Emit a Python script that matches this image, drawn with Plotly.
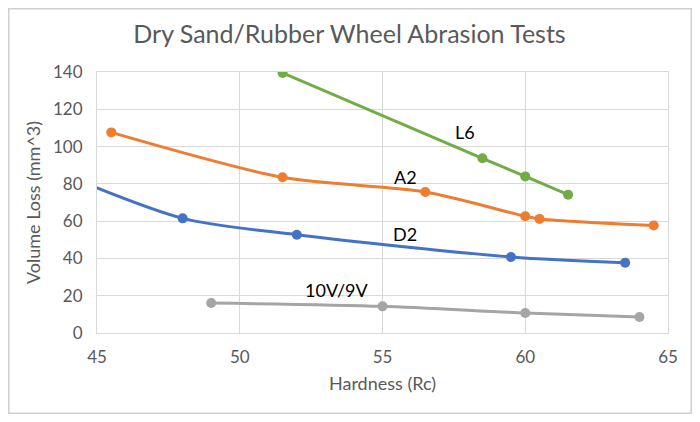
import plotly.graph_objects as go

# Data
d2_x = [44, 48, 52, 59.5, 63.5]
d2_y = [84, 61.5, 52.7, 40.8, 37.7]
a2_x = [45.5, 51.5, 56.5, 60, 60.5, 64.5]
a2_y = [107.6, 83.5, 75.6, 62.6, 61.2, 57.7]
l6_x = [51.5, 58.5, 60, 61.5]
l6_y = [139.5, 93.7, 84, 74.2]
v_x = [49, 55, 60, 64]
v_y = [16.1, 14.3, 10.7, 8.6]

labels = ["L6", "A2", "D2", "10V/9V"]
label_x = [57.9, 55.8, 55.8, 53.4]
label_y = [107.6, 83.7, 53.3, 23.2]

x_ticks = [45, 50, 55, 60, 65]
y_ticks = [0, 20, 40, 60, 80, 100, 120, 140]

FONT = "Lato"
GRAY_TXT = "#595959"

series = [
    ("D2", d2_x, d2_y, "#4472C4"),
    ("A2", a2_x, a2_y, "#ED7D31"),
    ("L6", l6_x, l6_y, "#70AD47"),
    ("10V/9V", v_x, v_y, "#A5A5A5"),
]

fig = go.Figure()
for name, xs, ys, col in series:
    fig.add_trace(go.Scatter(
        x=xs, y=ys, mode="lines+markers", name=name,
        line=dict(color=col, width=3, shape="spline", smoothing=0.8),
        marker=dict(color=col, size=10),
        cliponaxis=True,
    ))

for t, lx, ly in zip(labels, label_x, label_y):
    fig.add_annotation(x=lx, y=ly, text=t, showarrow=False,
                       font=dict(family=FONT, size=18, color="#000000"))

# page body has an 8px margin, so figure is sized to fit the 700x422 window
W, H = 684, 406
L, R, T, B = 89, 24, 64, 81
pw, ph = W - L - R, H - T - B

# light frame around the chart area
fig.add_shape(type="rect", xref="paper", yref="paper",
              x0=(0.75 - L) / pw, x1=(W - 0.75 - L) / pw,
              y0=-(B - 0.75) / ph, y1=1 + (T - 0.75) / ph,
              line=dict(color="#d0d0d0", width=1.5), fillcolor="rgba(0,0,0,0)", layer="below")

fig.update_layout(
    width=W, height=H,
    margin=dict(l=L, r=R, t=T, b=B),
    paper_bgcolor="white", plot_bgcolor="white",
    showlegend=False,
    title=dict(text="Dry Sand/Rubber Wheel Abrasion Tests", x=(349.5 - 8) / W, xanchor="center",
               y=1 - 26 / H, yanchor="middle",
               font=dict(family=FONT, size=25, color=GRAY_TXT)),
    font=dict(family=FONT, color=GRAY_TXT),
)
fig.update_xaxes(range=[45, 65], tickvals=x_ticks, showgrid=True, gridcolor="#d9d9d9",
                 showline=True, linecolor="#d9d9d9", mirror=True, zeroline=False,
                 ticks="", tickfont=dict(size=17, color=GRAY_TXT), ticklabelstandoff=9,
                 title=dict(text="Hardness (Rc)", font=dict(size=18, color=GRAY_TXT), standoff=10))
fig.update_yaxes(range=[0, 140], tickvals=y_ticks, showgrid=True, gridcolor="#d9d9d9",
                 showline=True, linecolor="#d9d9d9", mirror=True, zeroline=False,
                 ticks="", tickfont=dict(size=17, color=GRAY_TXT), ticklabelstandoff=10,
                 title=dict(text="Volume Loss (mm^3)", font=dict(size=18, color=GRAY_TXT), standoff=7))

fig.write_html("out.html")
